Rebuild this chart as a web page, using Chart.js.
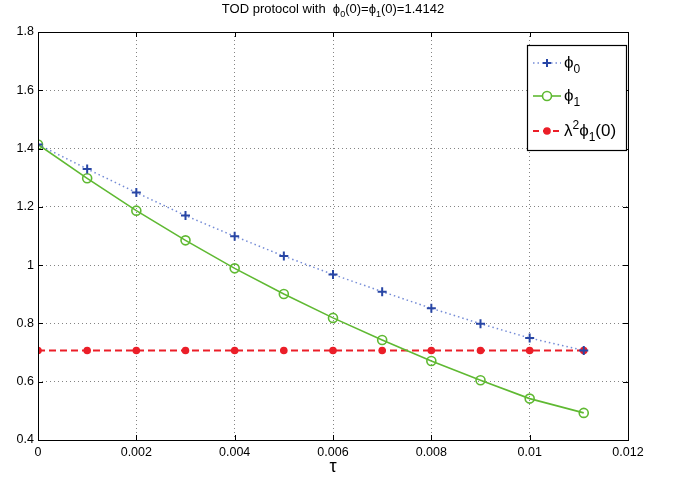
<!DOCTYPE html>
<html>
<head>
<meta charset="utf-8">
<script src="https://cdn.jsdelivr.net/npm/chart.js@4/dist/chart.umd.min.js"></script>
<style>
html,body{margin:0;padding:0;background:#fff;}
#wrap{width:686px;height:480px;position:relative;}
</style>
</head>
<body>
<div id="wrap"><canvas id="c" width="686" height="480"></canvas></div>
<script>
// ---- data ----
const tau = [0, 0.001, 0.002, 0.003, 0.004, 0.005, 0.006, 0.007, 0.008, 0.009, 0.010, 0.0111];
const phi0 = [1.4142, 1.330, 1.249, 1.170, 1.099, 1.031, 0.968, 0.909, 0.852, 0.799, 0.750, 0.7071];
const phi1 = [1.4142, 1.298, 1.187, 1.085, 0.989, 0.901, 0.819, 0.743, 0.671, 0.605, 0.542, 0.493];
const lam2phi10 = [0.7071, 0.7071, 0.7071, 0.7071, 0.7071, 0.7071, 0.7071, 0.7071, 0.7071, 0.7071, 0.7071, 0.7071];
const xTicks = [0, 0.002, 0.004, 0.006, 0.008, 0.01, 0.012];
const yTicks = [0.4, 0.6, 0.8, 1, 1.2, 1.4, 1.6, 1.8];
const titleParts = [{t:'TOD protocol with  \u03d5'},{t:'0',sub:true},{t:'(0)=\u03d5'},{t:'1',sub:true},{t:'(0)=1.4142'}];
const xLabel = '\u03c4';
const legendItems = [
  [{t:'\u03d5'},{t:'0',sub:true}],
  [{t:'\u03d5'},{t:'1',sub:true}],
  [{t:'\u03bb'},{t:'2',sup:true},{t:'\u03d5'},{t:'1',sub:true},{t:'(0)'}]
];

const FONT = '"Liberation Sans", Arial, sans-serif';
const BLUE = 'rgb(40,70,165)';
const BLUE_LINE = 'rgba(70,100,200,0.75)';
const GREEN = 'rgb(95,185,50)';
const RED = 'rgb(235,30,40)';

function toPts(xs, ys){ return xs.map((x,i)=>({x:x, y:ys[i]})); }
function fmt(v){ return String(parseFloat(Number(v).toFixed(4))); }

function drawRich(ctx, parts, x, y, size, align){
  const subSize = Math.round(size*0.68);
  let w = 0;
  parts.forEach(p=>{ ctx.font = ((p.sub||p.sup)?subSize:size)+'px '+FONT; w += ctx.measureText(p.t).width; });
  let cx = align==='center' ? x - w/2 : x;
  ctx.textBaseline = 'alphabetic';
  ctx.textAlign = 'left';
  parts.forEach(p=>{
    const s = (p.sub||p.sup)?subSize:size;
    ctx.font = s+'px '+FONT;
    let dy = 0;
    if (p.sub) dy = size*0.3;
    if (p.sup) dy = -size*0.4;
    ctx.fillText(p.t, cx, y+dy);
    cx += ctx.measureText(p.t).width;
  });
}

const decor = {
  id:'decor',
  afterDatasetsDraw(chart){
    const ctx = chart.ctx, a = chart.chartArea;
    const xs = chart.scales.x, ys = chart.scales.y;
    ctx.save();
    ctx.strokeStyle = '#000'; ctx.lineWidth = 1; ctx.setLineDash([]);
    ctx.strokeRect(Math.round(a.left)+0.5, Math.round(a.top)+0.5, Math.round(a.right-a.left), Math.round(a.bottom-a.top));
    ctx.beginPath();
    xTicks.forEach(v=>{ const px = Math.round(xs.getPixelForValue(v))+0.5;
      ctx.moveTo(px, a.bottom); ctx.lineTo(px, a.bottom-5);
      ctx.moveTo(px, a.top); ctx.lineTo(px, a.top+5); });
    yTicks.forEach(v=>{ const py = Math.round(ys.getPixelForValue(v))+0.5;
      ctx.moveTo(a.left, py); ctx.lineTo(a.left+5, py);
      ctx.moveTo(a.right, py); ctx.lineTo(a.right-5, py); });
    ctx.stroke();
    ctx.restore();
  },
  afterDraw(chart){
    const ctx = chart.ctx, a = chart.chartArea;
    ctx.save();
    ctx.fillStyle = '#000';
    drawRich(ctx, titleParts, (a.left+a.right)/2, 13, 13, 'center');
    ctx.font = '18px '+FONT;
    ctx.textAlign = 'center'; ctx.textBaseline='alphabetic';
    ctx.fillText(xLabel, (a.left+a.right)/2, 472);
    // legend
    const L = 527, T = 45, R = 626, B = 150;
    ctx.fillStyle = '#fff';
    ctx.fillRect(L, T, R-L, B-T);
    ctx.strokeStyle = '#000'; ctx.lineWidth = 1.2;
    ctx.strokeRect(L+0.5, T+0.5, R-L, B-T);
    const rows = [63, 96, 131];
    const x0 = 533, x1 = 561, xm = 547;
    ctx.strokeStyle = BLUE_LINE; ctx.lineWidth = 1.5; ctx.setLineDash([1.5,3]);
    ctx.beginPath(); ctx.moveTo(x0, rows[0]); ctx.lineTo(x1, rows[0]); ctx.stroke();
    ctx.setLineDash([]); ctx.strokeStyle = BLUE; ctx.lineWidth = 2;
    ctx.beginPath(); ctx.moveTo(xm-4, rows[0]); ctx.lineTo(xm+4, rows[0]); ctx.moveTo(xm, rows[0]-4); ctx.lineTo(xm, rows[0]+4); ctx.stroke();
    ctx.strokeStyle = GREEN; ctx.lineWidth = 1.6;
    ctx.beginPath(); ctx.moveTo(x0, rows[1]); ctx.lineTo(x1, rows[1]); ctx.stroke();
    ctx.beginPath(); ctx.arc(xm, rows[1], 4.5, 0, Math.PI*2); ctx.fillStyle='#fff'; ctx.fill(); ctx.stroke();
    ctx.strokeStyle = RED; ctx.lineWidth = 2; ctx.setLineDash([6,4]);
    ctx.beginPath(); ctx.moveTo(x0, rows[2]); ctx.lineTo(x1, rows[2]); ctx.stroke();
    ctx.setLineDash([]); ctx.fillStyle = RED;
    ctx.beginPath(); ctx.arc(xm, rows[2], 3.8, 0, Math.PI*2); ctx.fill();
    ctx.fillStyle = '#000';
    legendItems.forEach((parts,i)=>{ drawRich(ctx, parts, 564, rows[i]+5, 17, 'left'); });
    ctx.restore();
  }
};

new Chart(document.getElementById('c'), {
  type:'line',
  data:{
    datasets:[
      {label:'phi0', data:toPts(tau, phi0), borderColor:BLUE_LINE, borderWidth:1.5, borderDash:[1.5,3],
       pointStyle:'cross', pointRadius:4.5, pointBorderColor:BLUE, pointBorderWidth:2, pointBackgroundColor:BLUE, fill:false, tension:0},
      {label:'phi1', data:toPts(tau, phi1), borderColor:GREEN, borderWidth:1.6,
       pointStyle:'circle', pointRadius:4.5, pointBorderColor:GREEN, pointBorderWidth:1.6, pointBackgroundColor:'rgba(0,0,0,0)', fill:false, tension:0},
      {label:'lam', data:toPts(tau, lam2phi10), borderColor:RED, borderWidth:2, borderDash:[7,4],
       pointStyle:'circle', pointRadius:3.8, pointBorderWidth:0, pointBackgroundColor:RED, fill:false, tension:0}
    ]
  },
  options:{
    responsive:false, animation:false, devicePixelRatio:1,
    layout:{padding:{top:32, right:58, left:0, bottom:0}},
    plugins:{legend:{display:false}, title:{display:false}, tooltip:{enabled:false}},
    scales:{
      x:{type:'linear', min:0, max:0.012,
         afterBuildTicks(s){ s.ticks = xTicks.map(v=>({value:v})); },
         afterFit(s){ s.height = 40; },
         border:{display:false, dash:[1,3]},
         grid:{drawTicks:false, color:'rgba(110,110,110,0.85)', lineWidth:1},
         ticks:{padding:5, color:'#000', font:{family:FONT, size:12.5}, maxRotation:0, callback:(v)=>fmt(v)}},
      y:{type:'linear', min:0.4, max:1.8,
         afterBuildTicks(s){ s.ticks = yTicks.map(v=>({value:v})); },
         afterFit(s){ s.width = 38; },
         border:{display:false, dash:[1,3]},
         grid:{drawTicks:false, color:'rgba(110,110,110,0.85)', lineWidth:1},
         ticks:{padding:4, color:'#000', font:{family:FONT, size:12.5}, callback:(v)=>fmt(v)}}
    }
  },
  plugins:[decor]
});
</script>
</body>
</html>
